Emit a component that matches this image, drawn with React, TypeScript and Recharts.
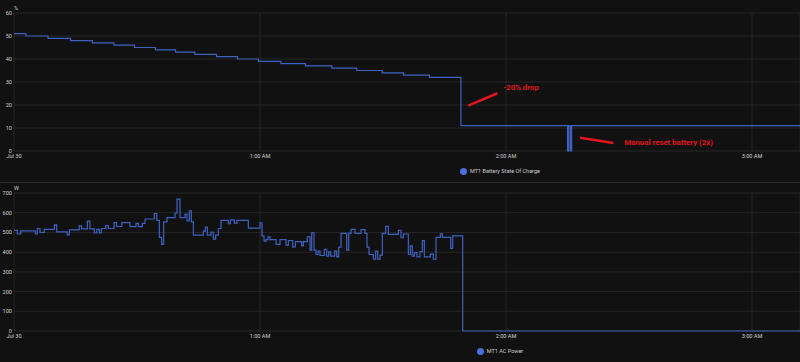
import React from 'react';
import { LineChart, Line, XAxis, YAxis, CartesianGrid, Legend, ReferenceLine, ReferenceDot } from 'recharts';

// ---- shared time axis (minutes after midnight, Jul 30) ----
const xTicks = [0, 60, 120, 180];
const xTickLabels = ['Jul 30', '1:00 AM', '2:00 AM', '3:00 AM'];
const xEnd = 191.7;

// ---- battery state of charge (%) ----
const socTimes = [0, 2.9, 8.3, 13.8, 19.1, 24.4, 29.4, 34.5, 39.4, 44.1, 49.4, 54.5, 59.6, 65.1, 71.1, 77.5, 83.6, 89.8, 95.0, 101.3, 109.0, 135.0, 135.3, 135.7, 136.0, 191.7];
const socValues = [51, 50, 49, 48, 47, 46, 45, 44, 43, 42, 41, 40, 39, 38, 37, 36, 35, 34, 33, 32, 11, 0, 11, 0, 11, 11];
const socTicks = [0, 10, 20, 30, 40, 50, 60];

// ---- AC power (W) ----
const powerTimes = [
  0, 0.81, 1.63, 5.2, 5.69, 6.34, 7.4, 9.84, 10.41, 13.0, 13.5, 15.9, 16.5, 17.9, 18.5, 19.6, 20.2, 20.8, 21.3, 22.4,
  23.0, 24.4, 25.0, 26.3, 28.29, 29.76, 30.33, 31.3, 31.95, 34.23, 34.8, 35.45, 36.02, 36.5, 37.32, 39.27, 39.76, 40.49,
  41.71, 42.2, 42.76, 43.25, 43.74, 46.18, 46.67, 47.15, 48.05, 48.62, 49.18, 49.83, 50.49, 52.28, 52.76, 53.74, 54.39,
  57.16, 60.0, 60.49, 60.98, 61.46, 61.95, 62.44, 63.9, 64.88, 66.34, 66.91, 67.97, 68.62, 70.16, 70.57, 71.54, 72.2,
  72.6, 73.17, 73.66, 74.15, 74.63, 75.69, 76.26, 76.75, 77.23, 78.21, 78.7, 79.19, 79.76, 81.14, 81.63, 82.2, 83.17,
  84.63, 85.61, 86.1, 86.59, 87.64, 88.21, 88.7, 89.27, 89.84, 90.65, 91.3, 93.74, 94.39, 94.96, 96.18, 96.67, 97.15,
  97.64, 98.29, 99.02, 99.59, 100.08, 101.54, 102.27, 102.93, 103.98, 104.47, 106.5, 106.99, 109.43, 191.7,
];
const powerValues = [
  510, 492, 508, 492, 520, 500, 515, 538, 503, 488, 513, 533, 518, 557, 518, 497, 515, 497, 520, 535,
  520, 550, 530, 550, 529, 546, 529, 546, 568, 595, 561, 475, 439, 554, 575, 598, 669, 575,
  592, 558, 610, 554, 486, 507, 527, 486, 502, 466, 486, 520, 561, 544, 564, 547, 561,
  522, 549, 483, 456, 464, 478, 464, 439, 464, 436, 459, 427, 453, 432, 453, 478, 410,
  498, 410, 388, 405, 383, 414, 380, 402, 380, 405, 376, 425, 495, 410, 495, 515, 495,
  514, 495, 425, 388, 364, 405, 364, 385, 495, 531, 490, 510, 473, 492, 388, 432, 380,
  398, 376, 403, 458, 376, 390, 364, 475, 493, 475, 419, 483, 0, 0,
];
const powerTicks = [0, 100, 200, 300, 400, 500, 600, 700];

// ---- annotations (data units of the top chart) ----
const dropArrow = [{ x: 110.8, y: 19.7 }, { x: 117.9, y: 25.1 }];
const dropLabel = { x: 119.3, y: 27.7, text: '-20% drop' };
const resetArrow = [{ x: 138.05, y: 5.78 }, { x: 146.2, y: 3.48 }];
const resetLabel = { x: 148.9, y: 3.9, text: 'Manual reset battery (2x)' };

const socData = socTimes.map((t, i) => ({ t, soc: socValues[i] }));
const powerData = powerTimes.map((t, i) => ({ t, power: powerValues[i] }));

const FONT = 'Roboto, "Noto Sans", sans-serif';
const BG = '#111111';
const GRID = '#262626';
const LINE = '#3f62c2';
const LEGEND_DOT = '#4a70dd';
const TEXT = '#cfcfcf';
const RED = '#e0161c';

const tickStyle = { fill: TEXT, fontSize: 5.6, fontFamily: FONT };
const fmtX = (v: number) => {
  const i = xTicks.indexOf(v);
  return i >= 0 ? xTickLabels[i] : '';
};

const makeLegend = (label: string) => () => (
  <div style={{ width: 1000, height: 14, display: 'flex', alignItems: 'center', justifyContent: 'center', fontFamily: FONT, fontSize: 5.5, color: TEXT }}>
    <span style={{ width: 7, height: 7, borderRadius: '50%', background: LEGEND_DOT, display: 'inline-block', marginRight: 3 }} />
    <span>{label}</span>
  </div>
);

const unitLabel = (text: string) => (props: any) => {
  const vb = props.viewBox || {};
  return (
    <text x={(vb.x || 0) + (vb.width || 0)} y={(vb.y || 0) - 3} fill={TEXT} fontSize={5.5} fontFamily={FONT} textAnchor="start">
      {text}
    </text>
  );
};

const redText = (text: string) => (props: any) => (
  <text x={props.cx} y={props.cy} dy="0.35em" fill={RED} fontSize={7.8} fontWeight="bold" fontFamily={FONT} textAnchor="start">
    {text}
  </text>
);

export default function App() {
  return (
    <div style={{ position: 'fixed', left: 0, top: 0, width: 800, height: 362, background: BG, overflow: 'hidden' }}>
      <LineChart width={800} height={182} data={socData} margin={{ top: 13, right: 0, left: 0, bottom: 4 }}>
        <CartesianGrid stroke={GRID} strokeWidth={1} />
        <XAxis dataKey="t" type="number" domain={[0, xEnd]} ticks={xTicks} tickFormatter={fmtX} axisLine={false} tickLine={false} tickSize={0} tickMargin={3} height={13} tick={tickStyle} interval={0} />
        <YAxis type="number" domain={[0, 60]} ticks={socTicks} width={14} axisLine={false} tickLine={false} tickSize={0} tickMargin={2} tick={tickStyle} interval={0} label={unitLabel('%')} />
        <Legend verticalAlign="bottom" wrapperStyle={{ left: 0, width: 800 }} content={makeLegend('MT1 Battery State Of Charge')} />
        <Line type="stepAfter" dataKey="soc" name="MT1 Battery State Of Charge" stroke={LINE} strokeWidth={1.2} dot={false} isAnimationActive={false} />
        <ReferenceLine segment={dropArrow} stroke={RED} strokeWidth={2.5} ifOverflow="visible" />
        <ReferenceLine segment={resetArrow} stroke={RED} strokeWidth={2.5} ifOverflow="visible" />
        <ReferenceDot x={dropLabel.x} y={dropLabel.y} r={1} shape={redText(dropLabel.text)} ifOverflow="visible" />
        <ReferenceDot x={resetLabel.x} y={resetLabel.y} r={1} shape={redText(resetLabel.text)} ifOverflow="visible" />
      </LineChart>
      <div style={{ width: 800, height: 1, background: '#2c2c2c' }} />
      <LineChart width={800} height={179} data={powerData} margin={{ top: 10, right: 0, left: 0, bottom: 4 }}>
        <CartesianGrid stroke={GRID} strokeWidth={1} />
        <XAxis dataKey="t" type="number" domain={[0, xEnd]} ticks={xTicks} tickFormatter={fmtX} axisLine={false} tickLine={false} tickSize={0} tickMargin={3} height={13} tick={tickStyle} interval={0} />
        <YAxis type="number" domain={[0, 700]} ticks={powerTicks} width={14} axisLine={false} tickLine={false} tickSize={0} tickMargin={2} tick={tickStyle} interval={0} label={unitLabel('W')} />
        <Legend verticalAlign="bottom" wrapperStyle={{ left: 0, width: 800 }} content={makeLegend('MT1 AC Power')} />
        <Line type="stepAfter" dataKey="power" name="MT1 AC Power" stroke={LINE} strokeWidth={1.2} dot={false} isAnimationActive={false} />
      </LineChart>
    </div>
  );
}
